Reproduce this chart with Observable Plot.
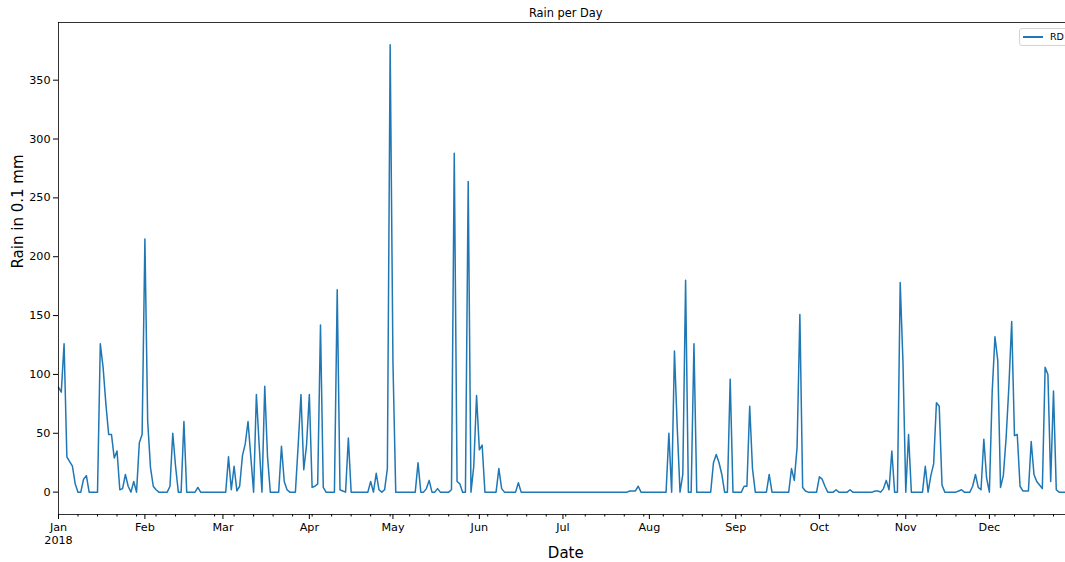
<!DOCTYPE html>
<html><head><meta charset="utf-8">
<script src="https://cdn.jsdelivr.net/npm/d3@7"></script>
<script src="https://cdn.jsdelivr.net/npm/@observablehq/plot@0.6"></script>
<style>
html,body{margin:0;padding:0;background:#fff;overflow:hidden;width:1065px;height:562px}
#wrap{position:relative;width:1065px;height:562px;overflow:hidden;background:#fff}
#chart{position:absolute;left:0;top:0;width:1100px;height:562px}
#chart svg{max-width:none !important;width:1100px;height:562px}
.legend{position:absolute;left:1019px;top:28px;width:70px;height:16px;border:1px solid #d3d3d3;border-radius:3px;background:rgba(255,255,255,0.85);font-family:"DejaVu Sans";font-size:9.5px;color:#000}
.legend .ln{position:absolute;left:3px;top:7px;width:20px;height:1.5px;background:#1f77b4}
.legend .lb{position:absolute;left:30px;top:2px}
</style></head><body>
<div id="wrap"><div id="chart"></div>
<div class="legend"><span class="ln"></span><span class="lb">RD</span></div></div>
<script>
// Daily rain (0.1 mm), 2018, one array per month
const jan = [89,85,126,30,26,22,7,0,0,11,14,0,0,0,0,126,106,75,49,49,29,35,2,3,15,5,0,9,0,42,49];
const feb = [215,60,21,5,2,0,0,0,0,5,50,22,0,0,60,0,0,0,0,4,0,0,0,0,0,0,0,0];
const mar = [0,0,30,2,22,1,5,31,41,60,30,0,83,40,0,90,30,0,0,0,0,39,9,2,0,0,0,40,83,19,40];
const apr = [83,4,5,7,142,4,0,0,0,0,172,2,1,0,46,0,0,0,0,0,0,0,9,0,16,2,0,2,20,380];
const may = [110,0,0,0,0,0,0,0,0,25,0,0,3,10,0,0,3,0,0,0,0,2,288,9,7,0,0,264,0,22,82];
const jun = [36,40,0,0,0,0,0,20,3,0,0,0,0,0,8,0,0,0,0,0,0,0,0,0,0,0,0,0,0,0];
const jul = [0,0,0,0,0,0,0,0,0,0,0,0,0,0,0,0,0,0,0,0,0,0,0,0,1,1,1,5,0,0,0];
const aug = [0,0,0,0,0,0,0,50,0,120,55,0,15,180,0,0,126,0,0,0,0,0,0,25,32,25,15,0,0,96,0];
const sep = [0,0,0,5,5,73,20,0,0,0,0,0,15,0,0,0,0,0,0,0,20,10,38,151,4,1,0,0,0,0];
const oct = [13,11,5,0,0,0,2,0,0,0,0,2,0,0,0,0,0,0,0,0,1,1,0,3,10,2,35,0,0,178,110];
const nov = [0,49,0,0,0,0,0,22,0,14,24,76,73,6,0,0,0,0,0,1,2,0,0,0,5,15,4,2,45,12];
const dec = [0,85,132,112,4,14,46,90,145,48,49,5,1,1,1,43,15,9,6,3,106,100,9,86,2,0,0,0,0,0,0];

const months = [jan, feb, mar, apr, may, jun, jul, aug, sep, oct, nov, dec];
const monthNames = ["Jan\n2018","Feb","Mar","Apr","May","Jun","Jul","Aug","Sep","Oct","Nov","Dec"];
const yTicks = [0,50,100,150,200,250,300,350];

const data = months.flatMap((arr, m) => arr.map((v, j) => ({date: new Date(Date.UTC(2018, m, j + 1)), rd: v})));
const start = new Date(Date.UTC(2018, 0, 1));
const end = new Date(Date.UTC(2018, 11, 31));
const monthTicks = d3.utcMonth.range(start, new Date(Date.UTC(2018, 11, 2)));
const weekTicks = d3.utcMonday.range(start, new Date(Date.UTC(2019, 0, 1)));

const chart = Plot.plot({
  width: 1100,
  height: 562,
  marginTop: 22,
  marginBottom: 48,
  marginLeft: 58,
  marginRight: 27.5,
  style: {fontFamily: "DejaVu Sans", fontSize: "11.2px", color: "#000", background: "#fff", overflow: "visible", maxWidth: "none"},
  x: {type: "utc", domain: [start, end]},
  y: {domain: [-19, 399]},
  marks: [
    Plot.axisY({ticks: yTicks, tickSize: 5, tickPadding: 3, label: null, tickFormat: d => String(d)}),
    Plot.axisX({ticks: weekTicks, tickSize: 2.5, tickFormat: () => "", label: null}),
    Plot.axisX({ticks: monthTicks, tickSize: 5, tickPadding: 3, lineHeight: 1.12, label: null, tickFormat: d => monthNames[d.getUTCMonth()]}),
    Plot.line(data, {x: "date", y: "rd", stroke: "#1f77b4", strokeWidth: 1.5}),
    Plot.frame({stroke: "#000", strokeWidth: 0.8}),
    Plot.text(["Rain per Day"], {frameAnchor: "top", dy: -9, lineAnchor: "middle", fontSize: 11.4}),
    Plot.text(["Date"], {frameAnchor: "bottom", dy: 39, lineAnchor: "middle", fontSize: 15}),
    Plot.text(["Rain in 0.1 mm"], {frameAnchor: "left", dx: -40, rotate: -90, lineAnchor: "middle", fontSize: 15})
  ]
});
document.getElementById("chart").appendChild(chart);
</script>
</body></html>
